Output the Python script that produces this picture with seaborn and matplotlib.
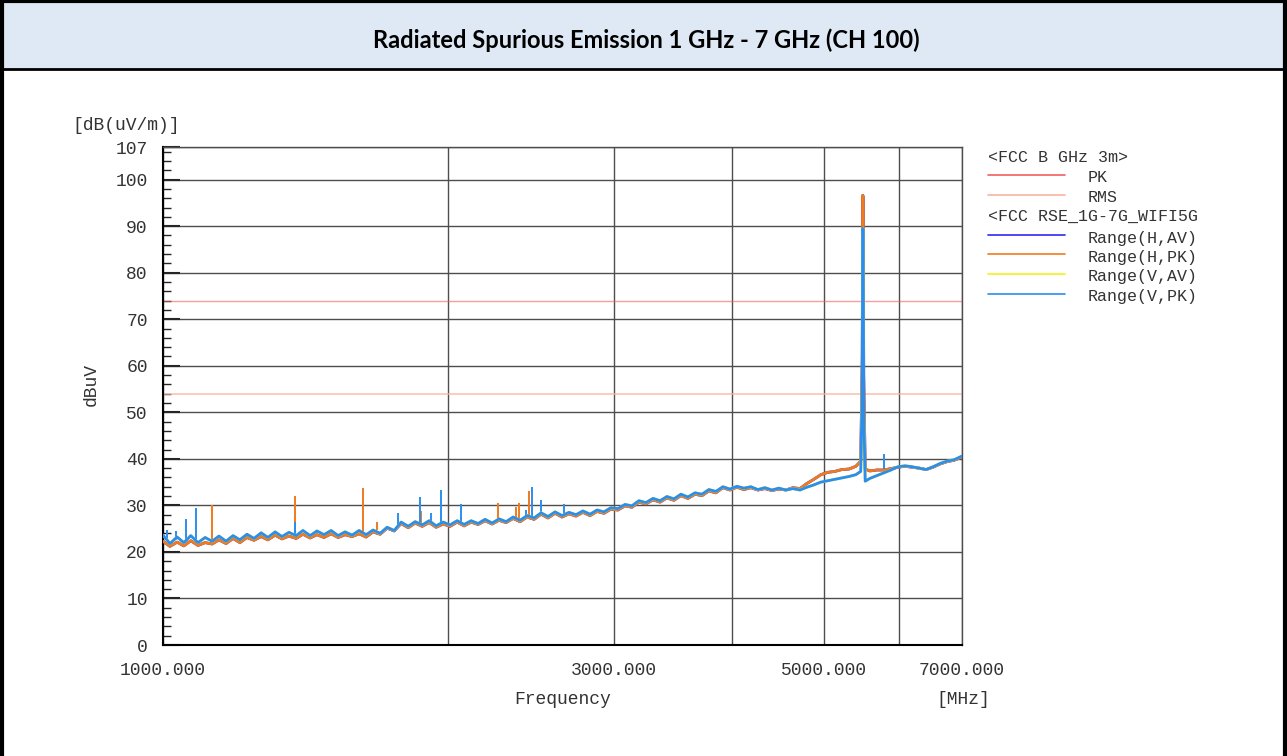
import matplotlib
matplotlib.use("Agg")
import matplotlib.pyplot as plt
from matplotlib.lines import Line2D
from matplotlib.patches import Rectangle
from matplotlib.ticker import FixedLocator, MultipleLocator, FixedFormatter
import seaborn as sns

# sweep points (MHz) and readings (dBuV)
freq_mhz = [1000, 1017, 1035, 1052, 1070, 1089, 1108, 1127, 1146, 1166,
            1186, 1206, 1227, 1248, 1270, 1291, 1314, 1336, 1359, 1383,
            1406, 1431, 1455, 1480, 1506, 1532, 1558, 1585, 1612, 1640,
            1668, 1697, 1726, 1756, 1786, 1817, 1848, 1880, 1912, 1945,
            1978, 2012, 2047, 2082, 2118, 2154, 2191, 2229, 2267, 2306,
            2346, 2386, 2427, 2469, 2511, 2554, 2598, 2643, 2688, 2734,
            2781, 2829, 2878, 2927, 2977, 3028, 3081, 3133, 3187, 3242,
            3298, 3355, 3412, 3471, 3530, 3591, 3653, 3716, 3779, 3844,
            3910, 3978, 4046, 4115, 4186, 4258, 4331, 4406, 4482, 4559,
            4637, 4717, 4798, 4880, 4964, 5050, 5137, 5225, 5315, 5406,
            5470, 5490, 5497, 5503, 5510, 5530, 5594, 5690, 5788, 5888,
            5990, 6093, 6198, 6305, 6414, 6524, 6637, 6751, 6868, 7000]

h_pk = [22.3, 21.2, 22.1, 21.3, 22.4, 21.4, 22.0, 21.7, 22.6, 21.8,
        22.9, 22.0, 23.1, 22.5, 23.3, 22.6, 23.6, 22.8, 23.4, 22.9,
        23.8, 23.0, 23.7, 23.1, 23.9, 23.1, 23.7, 23.3, 23.9, 23.2,
        24.3, 23.8, 25.1, 24.5, 26.1, 25.2, 26.2, 25.5, 26.3, 25.3,
        26.0, 25.5, 26.4, 25.6, 26.4, 25.9, 26.7, 26.0, 26.8, 26.3,
        27.2, 26.5, 27.5, 27.0, 28.1, 27.3, 28.3, 27.5, 28.2, 27.7,
        28.5, 27.8, 28.7, 28.3, 29.2, 29.0, 29.9, 29.6, 30.7, 30.3,
        31.2, 30.7, 31.6, 31.1, 32.1, 31.5, 32.4, 32.1, 33.1, 32.7,
        33.8, 33.3, 33.9, 33.4, 33.8, 33.3, 33.6, 33.2, 33.5, 33.3,
        33.8, 33.6, 34.7, 35.6, 36.6, 37.1, 37.3, 37.7, 37.8, 38.4,
        39.5, 62.0, 96.6, 96.2, 58.0, 37.8, 37.4, 37.6, 37.6, 37.9,
        38.2, 38.4, 38.2, 38.0, 37.7, 38.2, 38.9, 39.4, 39.7, 40.4]

v_pk = [23.6, 21.8, 23.2, 22.0, 23.5, 22.0, 23.1, 22.3, 23.4, 22.3,
        23.5, 22.6, 23.8, 22.9, 24.1, 23.1, 24.3, 23.3, 24.2, 23.5,
        24.6, 23.5, 24.5, 23.7, 24.6, 23.5, 24.3, 23.6, 24.6, 23.7,
        24.7, 24.0, 25.3, 24.6, 26.4, 25.5, 26.5, 25.8, 26.7, 25.6,
        26.4, 25.8, 26.7, 25.9, 26.7, 26.1, 27.0, 26.2, 27.1, 26.5,
        27.5, 26.8, 27.8, 27.3, 28.4, 27.6, 28.6, 27.8, 28.5, 28.0,
        28.8, 28.1, 29.0, 28.6, 29.5, 29.3, 30.2, 29.9, 31.0, 30.6,
        31.5, 31.0, 31.9, 31.4, 32.4, 31.8, 32.7, 32.4, 33.4, 33.0,
        34.0, 33.5, 34.1, 33.7, 34.0, 33.4, 33.8, 33.3, 33.7, 33.3,
        33.6, 33.3, 33.9, 34.4, 35.0, 35.3, 35.6, 35.9, 36.2, 36.6,
        37.3, 55.0, 89.5, 89.0, 50.0, 35.2, 35.8, 36.4, 37.0, 37.6,
        38.3, 38.5, 38.3, 38.0, 37.7, 38.3, 39.0, 39.5, 39.8, 40.6]

# AV readings lie under the PK traces
h_av = h_pk
v_av = v_pk

# narrow spurs (MHz, base dBuV, top dBuV)
h_spike_freq = [1127, 1379, 1628, 1684, 1876, 2261, 2362, 2380, 2438]
h_spike_base = [22.0, 23.3, 23.6, 24.8, 25.3, 26.6, 27.0, 27.1, 27.3]
h_spike_top = [30.0, 32.0, 33.7, 26.4, 28.8, 30.5, 29.7, 30.5, 33.0]

v_spike_freq = [1010, 1032, 1058, 1084, 1379, 1772, 1870, 1921, 1968,
                2066, 2421, 2456, 2511, 2655, 5790]
v_spike_base = [22.5, 22.5, 22.7, 22.8, 23.8, 25.7, 26.0, 26.0, 26.0,
                26.2, 27.5, 27.8, 28.0, 28.2, 37.0]
v_spike_top = [24.7, 24.5, 27.0, 29.4, 26.4, 28.3, 31.8, 28.3, 33.2,
               30.3, 29.0, 34.0, 31.2, 30.3, 41.0]

limit_pk = 74
limit_rms = 54

y_ticks = [0, 10, 20, 30, 40, 50, 60, 70, 80, 90, 100, 107]
x_ticks = [1000, 2000, 3000, 4000, 5000, 6000, 7000]
x_tick_labels = ["1000.000", "", "3000.000", "", "5000.000", "", "7000.000"]

legend_rows = ["<FCC B GHz 3m>", "PK", "RMS", "<FCC RSE_1G-7G_WIFI5G",
               "Range(H,AV)", "Range(H,PK)", "Range(V,AV)", "Range(V,PK)"]

title = "Radiated Spurious Emission 1 GHz - 7 GHz (CH 100)"

c_lim_pk = "#f06060"
c_lim_rms = "#f8b4a0"
c_h_av = "#2a2af0"
c_h_pk = "#f07a1e"
c_v_av = "#f2f21a"
c_v_pk = "#2a8ef0"
legend_colors = [None, c_lim_pk, c_lim_rms, None, c_h_av, c_h_pk, c_v_av, c_v_pk]

sns.set_style("white")
plt.rcParams["font.family"] = ["Liberation Mono", "DejaVu Sans Mono"]

W, H = 1287, 756
fig = plt.figure(figsize=(W / 100, H / 100), dpi=100)

def fx(px):
    return px / W

def fy(py):
    return 1 - py / H

# title band and frame
fig.add_artist(Rectangle((0, fy(69)), 1, 1 - fy(69), transform=fig.transFigure,
                         facecolor="#dee9f5", edgecolor="none", zorder=0))
fig.add_artist(Line2D([0, 1], [fy(69), fy(69)], transform=fig.transFigure, color="black", lw=2))
fig.add_artist(Line2D([0, 1], [fy(1), fy(1)], transform=fig.transFigure, color="black", lw=3))
fig.add_artist(Line2D([fx(1.5), fx(1.5)], [0, 1], transform=fig.transFigure, color="black", lw=3))
fig.add_artist(Line2D([fx(1285), fx(1285)], [0, 1], transform=fig.transFigure, color="black", lw=3))
fig.text(fx(646), fy(40), title, ha="center", va="center", fontsize=17,
         fontweight="bold", family=["Lato", "DejaVu Sans"], color="black")

ax = fig.add_axes([fx(163), fy(645), fx(962) - fx(163), fy(147) - fy(645)])

ax.axhline(limit_pk, color=c_lim_pk, lw=1, alpha=0.6, zorder=2)
ax.axhline(limit_rms, color=c_lim_rms, lw=1.2, alpha=0.8, zorder=2)

ax.vlines(h_spike_freq, h_spike_base, h_spike_top, color=c_h_pk, lw=1.4, zorder=3)
ax.vlines(v_spike_freq, v_spike_base, v_spike_top, color=c_v_pk, lw=1.4, zorder=3)

series = [(h_av, c_h_av), (h_pk, c_h_pk), (v_av, c_v_av), (v_pk, c_v_pk)]
for vals, col in series:
    sns.lineplot(x=freq_mhz, y=vals, ax=ax, color=col, lw=2.0, estimator=None, zorder=4)

ax.set_xscale("log")
ax.set_xlim(1000, 7000)
ax.set_ylim(0, 107)

ax.xaxis.set_major_locator(FixedLocator(x_ticks))
ax.xaxis.set_major_formatter(FixedFormatter(x_tick_labels))
ax.xaxis.set_minor_locator(FixedLocator([]))
ax.yaxis.set_major_locator(FixedLocator(y_ticks))
ax.yaxis.set_minor_locator(MultipleLocator(2))

ax.grid(True, which="major", color="#4d4d4d", lw=1)
ax.tick_params(axis="y", which="major", direction="in", length=12, width=1.5,
               left=True, labelsize=13, labelcolor="#333333", pad=11)
ax.tick_params(axis="y", which="minor", direction="in", length=6, width=1, left=True)
ax.tick_params(axis="x", which="major", length=0, labelsize=13, labelcolor="#333333", pad=12)
for side in ["top", "right"]:
    ax.spines[side].set_color("#4d4d4d")
    ax.spines[side].set_linewidth(1)
for side in ["left", "bottom"]:
    ax.spines[side].set_color("black")
    ax.spines[side].set_linewidth(1.5)

ax.set_xlabel("")
ax.set_ylabel("")
fig.text(fx(563), fy(700), "Frequency", ha="center", va="center", fontsize=13, color="#333333")
fig.text(fx(990), fy(700), "[MHz]", ha="right", va="center", fontsize=13, color="#333333")
fig.text(fx(72), fy(126), "[dB(uV/m)]", ha="left", va="center", fontsize=13, color="#333333")
fig.text(fx(91), fy(384), "dBuV", ha="center", va="center", rotation=90, fontsize=13, color="#333333")

# legend block drawn in figure space
text_y = [157, 178, 198, 216, 238, 257, 277, 297]
for label, col, ty in zip(legend_rows, legend_colors, text_y):
    if col is None:
        fig.text(fx(988), fy(ty), label, ha="left", va="center", fontsize=12, color="#333333")
    else:
        fig.add_artist(Line2D([fx(988), fx(1065)], [fy(ty - 3), fy(ty - 3)],
                              transform=fig.transFigure, color=col, lw=1.2))
        fig.text(fx(1088), fy(ty), label, ha="left", va="center", fontsize=12, color="#333333")

fig.savefig("out.png", dpi=100)
